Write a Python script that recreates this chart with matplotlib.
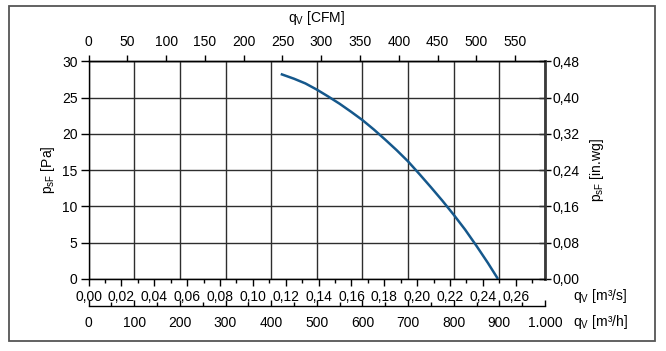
import matplotlib

matplotlib.use("Agg")
import matplotlib.pyplot as plt
from matplotlib.patches import Rectangle
from matplotlib.ticker import FuncFormatter, MultipleLocator

plt.rcParams["font.family"] = ["Liberation Sans", "DejaVu Sans"]
plt.rcParams["mathtext.fontset"] = "custom"
plt.rcParams["mathtext.rm"] = "Liberation Sans"
plt.rcParams["mathtext.it"] = "Liberation Sans:italic"

# fan curve: flow [m³/h] vs static pressure [Pa]
flow_m3h = [421, 450, 475, 500, 525, 550, 575, 600, 625, 650, 675, 700,
            725, 750, 775, 800, 825, 850, 875, 897]
press_pa = [28.25, 27.6, 26.95, 26.1, 25.15, 24.15, 23.05, 21.9, 20.6, 19.2,
            17.75, 16.2, 14.45, 12.65, 10.8, 8.85, 6.8, 4.55, 2.2, 0.0]

M3H_TO_CFM = 0.588578
PA_TO_INWG = 0.016  # as labelled on the chart
LINE = "#15588c"

W, H = 666, 351
fig = plt.figure(figsize=(W / 100, H / 100), dpi=100)
ax = fig.add_axes([88.6 / W, (H - 279) / H, 456.4 / W, 217.7 / H])

ax.plot(flow_m3h, press_pa, color=LINE, lw=1.8, solid_capstyle="butt")
ax.set_xlim(0, 1000)
ax.set_ylim(0, 30)
ax.xaxis.set_major_locator(MultipleLocator(100))
ax.yaxis.set_major_locator(MultipleLocator(5))
ax.grid(True, color="#2e2e2e", lw=1.0)
ax.tick_params(bottom=False, labelbottom=False, top=False, right=False,
               left=True, direction="out", length=6, width=1, pad=2,
               labelsize=10)
for s in ("left", "top", "bottom"):
    ax.spines[s].set_color("black")
    ax.spines[s].set_linewidth(1.0)
ax.spines["right"].set_visible(False)

# top axis: CFM
top = ax.secondary_xaxis("top", functions=(lambda x: x * M3H_TO_CFM,
                                           lambda x: x / M3H_TO_CFM))
top.set_xticks(range(0, 551, 50))
top.tick_params(direction="out", length=4, width=1, pad=5, labelsize=10)
top.spines["top"].set_linewidth(1.0)

# right axis: in.wg
right = ax.secondary_yaxis("right", functions=(lambda y: y * PA_TO_INWG,
                                               lambda y: y / PA_TO_INWG))
right.set_yticks([0, 0.08, 0.16, 0.24, 0.32, 0.40, 0.48])
right.yaxis.set_major_formatter(FuncFormatter(lambda v, p: f"{v:.2f}".replace(".", ",")))
right.tick_params(direction="inout", length=9, width=1, pad=1, labelsize=10)
right.spines["right"].set_linewidth(2.0)
right.spines["right"].set_color("#3a3a3a")

# bottom axis 1: m³/s
bs = ax.secondary_xaxis("bottom", functions=(lambda x: x / 3600.0,
                                             lambda x: x * 3600.0))
bs.set_xticks([i / 100 for i in range(0, 27, 2)])
bs.set_xticks([i / 100 for i in range(1, 28, 2)], minor=True)
bs.xaxis.set_major_formatter(FuncFormatter(lambda v, p: f"{v:.2f}".replace(".", ",")))
bs.tick_params(which="major", direction="out", length=5, width=1, pad=3, labelsize=10)
bs.tick_params(which="minor", direction="out", length=3, width=1)

# bottom axis 2: m³/h
bh = ax.secondary_xaxis(-27 / 217.7)
bh.set_xticks(range(0, 1001, 100))
bh.set_xticks(range(50, 1000, 100), minor=True)
bh.xaxis.set_major_formatter(FuncFormatter(lambda v, p: "1.000" if v >= 1000 else f"{v:.0f}"))
bh.tick_params(which="major", direction="in", length=4, width=1, pad=7, labelsize=10)
bh.tick_params(which="minor", direction="in", length=3, width=1)
bh.spines["bottom"].set_linewidth(1.0)

# axis titles
fig.text(316.8 / W, 1 - 18 / H, r"q$_\mathrm{V}$ [CFM]", ha="center", va="center", fontsize=10)
fig.text(48 / W, 1 - 170 / H, r"p$_\mathrm{sF}$ [Pa]", ha="center", va="center",
         rotation=90, fontsize=10)
fig.text(597 / W, 1 - 170 / H, r"p$_\mathrm{sF}$ [in.wg]", ha="center", va="center",
         rotation=90, fontsize=10)
fig.text(573 / W, 1 - 296 / H, r"q$_\mathrm{V}$ [m³/s]", ha="left", va="center", fontsize=10)
fig.text(573 / W, 1 - 322 / H, r"q$_\mathrm{V}$ [m³/h]", ha="left", va="center", fontsize=10)

# outer frame
fig.patches.append(Rectangle((9 / W, 1 - 341 / H), 646 / W, 335 / H,
                             transform=fig.transFigure, fill=False,
                             edgecolor="#555555", lw=1.3))

fig.savefig("out.png", dpi=100)
